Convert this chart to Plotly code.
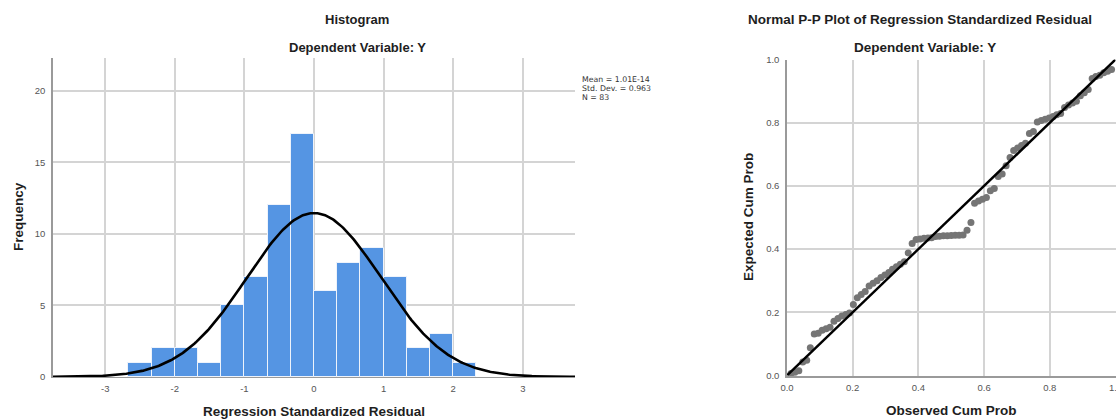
import numpy as np
import plotly.graph_objects as go

# ---- Histogram of regression standardized residuals ----
bin_edges = [-2.667, -2.333, -2.0, -1.667, -1.333, -1.0, -0.667, -0.333,
             0.0, 0.333, 0.667, 1.0, 1.333, 1.667, 2.0, 2.333]
counts = [1, 2, 2, 1, 5, 7, 12, 17, 6, 8, 9, 7, 2, 3, 1]
x_ticks = [-3, -2, -1, 0, 1, 2, 3]
x_tick_text = ["-3", "-2", "-1", "0", "1", "2", "3"]
y_ticks = [0, 5, 10, 15, 20]

resid_mean = 1.01e-14
resid_sd = 0.963
n_obs = 83

# ---- Normal P-P plot ----
observed_cum = [
    0.012, 0.024, 0.036, 0.048, 0.060, 0.071, 0.083, 0.095, 0.107, 0.119,
    0.131, 0.143, 0.155, 0.167, 0.179, 0.190, 0.202, 0.214, 0.226, 0.238,
    0.250, 0.262, 0.274, 0.286, 0.298, 0.310, 0.321, 0.333, 0.345, 0.357,
    0.369, 0.381, 0.393, 0.405, 0.417, 0.429, 0.440, 0.452, 0.464, 0.476,
    0.488, 0.500, 0.512, 0.524, 0.536, 0.548, 0.560, 0.571, 0.583, 0.595,
    0.607, 0.619, 0.631, 0.643, 0.655, 0.667, 0.679, 0.690, 0.702, 0.714,
    0.726, 0.738, 0.750, 0.762, 0.774, 0.786, 0.798, 0.810, 0.821, 0.833,
    0.845, 0.857, 0.869, 0.881, 0.893, 0.905, 0.917, 0.929, 0.940, 0.952,
    0.964, 0.976, 0.988,
]
expected_cum = [
    0.006, 0.010, 0.015, 0.043, 0.048, 0.088, 0.131, 0.134, 0.143, 0.148,
    0.153, 0.172, 0.180, 0.188, 0.193, 0.198, 0.225, 0.246, 0.256, 0.266,
    0.283, 0.292, 0.300, 0.310, 0.318, 0.326, 0.336, 0.344, 0.352, 0.360,
    0.388, 0.418, 0.430, 0.432, 0.434, 0.435, 0.436, 0.440, 0.441, 0.442,
    0.442, 0.443, 0.444, 0.444, 0.445, 0.460, 0.484, 0.545, 0.552, 0.558,
    0.563, 0.585, 0.592, 0.630, 0.638, 0.664, 0.690, 0.712, 0.720, 0.728,
    0.735, 0.766, 0.772, 0.802, 0.807, 0.811, 0.815, 0.820, 0.825, 0.829,
    0.848, 0.856, 0.862, 0.868, 0.885, 0.895, 0.905, 0.940, 0.946, 0.950,
    0.958, 0.963, 0.968,
]
pp_ticks = [0, 0.2, 0.4, 0.6, 0.8, 1.0]
pp_tick_text = ["0.0", "0.2", "0.4", "0.6", "0.8", "1.0"]

W, H = 1116, 419
FONT = "Liberation Sans, Arial, sans-serif"
TXT = "#1e1e1e"
TICK = "#555555"
GRID = "#d4d4d4"
AXIS = "#9a9a9a"


def px_x(p):
    return p / W


def px_y(p):
    return 1 - p / H


edges = np.array(bin_edges)
widths = np.diff(edges)
centers = edges[:-1] + widths / 2

# normal density scaled to the histogram (N * bin width * pdf)
bw = float(np.mean(widths))
xs = np.linspace(-3.75, 3.75, 400)
curve = n_obs * bw * np.exp(-0.5 * ((xs - resid_mean) / resid_sd) ** 2) / (resid_sd * np.sqrt(2 * np.pi))

fig = go.Figure()

fig.add_trace(go.Bar(
    x=centers, y=counts, width=widths,
    marker=dict(color="#5595E3", line=dict(color="#eef3fb", width=1)),
    xaxis="x", yaxis="y", hoverinfo="skip",
))
fig.add_trace(go.Scatter(
    x=xs, y=curve, mode="lines",
    line=dict(color="#000000", width=2.6),
    xaxis="x", yaxis="y", hoverinfo="skip",
))

fig.add_trace(go.Scatter(
    x=observed_cum, y=expected_cum, mode="markers",
    marker=dict(color="#757575", size=7, line=dict(width=0)),
    xaxis="x2", yaxis="y2", hoverinfo="skip", cliponaxis=False,
))
fig.add_trace(go.Scatter(
    x=[0, 1], y=[0, 1], mode="lines",
    line=dict(color="#000000", width=2.4),
    xaxis="x2", yaxis="y2", hoverinfo="skip",
))

tick_font = dict(family=FONT, size=9.5, color=TICK)

fig.update_layout(
    width=W, height=H,
    margin=dict(l=0, r=0, t=0, b=0, autoexpand=False),
    paper_bgcolor="white", plot_bgcolor="white",
    showlegend=False,
    bargap=0,
    font=dict(family=FONT, color=TXT),
    xaxis=dict(
        domain=[px_x(53), px_x(575)], range=[-3.75, 3.75],
        tickvals=x_ticks, ticktext=x_tick_text, ticks="",
        showgrid=True, gridcolor=GRID, gridwidth=1.5,
        zeroline=False, showline=True, linecolor=AXIS, linewidth=1,
        tickfont=tick_font, ticklabelstandoff=3, anchor="y", automargin=False,
    ),
    yaxis=dict(
        domain=[px_y(377), px_y(58)], range=[0, 22.3],
        tickvals=y_ticks, ticks="",
        showgrid=True, gridcolor=GRID, gridwidth=1.5,
        zeroline=False, showline=True, linecolor=AXIS, linewidth=1.5,
        tickfont=tick_font, ticklabelstandoff=4, anchor="x", automargin=False,
    ),
    xaxis2=dict(
        domain=[px_x(787), px_x(1115.5)], range=[0, 1],
        tickvals=pp_ticks, ticktext=pp_tick_text,
        ticks="", showgrid=True, gridcolor=GRID, gridwidth=1.5,
        zeroline=False, showline=True, linecolor=AXIS, linewidth=1.5,
        tickfont=tick_font, ticklabelstandoff=2, anchor="y2", automargin=False,
        ticklabeloverflow="allow",
    ),
    yaxis2=dict(
        domain=[px_y(375.5), px_y(59.5)], range=[0, 1],
        tickvals=pp_ticks, ticktext=pp_tick_text,
        ticks="", showgrid=True, gridcolor=GRID, gridwidth=1.5,
        zeroline=False, showline=True, linecolor=AXIS, linewidth=1.5,
        tickfont=tick_font, ticklabelstandoff=4, anchor="x2", automargin=False,
    ),
)


def label(text, x, y, size=13.5, bold=True, angle=0, anchor="center", color=TXT, family=FONT):
    fig.add_annotation(
        text=text, x=px_x(x), y=px_y(y), xref="paper", yref="paper",
        showarrow=False, textangle=angle, xanchor=anchor, yanchor="middle",
        borderpad=0,
        font=dict(family=family, size=size, color=color, weight="bold" if bold else "normal"),
    )


label("Histogram", 357, 20, size=13)
label("Dependent Variable: Y", 357, 47, size=13)
label("Frequency", 18, 217, size=13.5, angle=-90)
label("Regression Standardized Residual", 314, 411, size=13.5)

stats_font = "DejaVu Sans, Liberation Sans, sans-serif"
label("Mean = 1.01E-14", 581, 80, size=7.8, bold=False, anchor="left", color="#333333", family=stats_font)
label("Std. Dev. = 0.963", 581, 88.7, size=7.8, bold=False, anchor="left", color="#333333", family=stats_font)
label("N = 83", 581, 97.4, size=7.8, bold=False, anchor="left", color="#333333", family=stats_font)

label("Normal P-P Plot of Regression Standardized Residual", 920, 20)
label("Dependent Variable: Y", 925, 47)
label("Expected Cum Prob", 748, 217, size=13.5, angle=-90)
label("Observed Cum Prob", 951, 410, size=13.5)

fig.write_html("out.html")
